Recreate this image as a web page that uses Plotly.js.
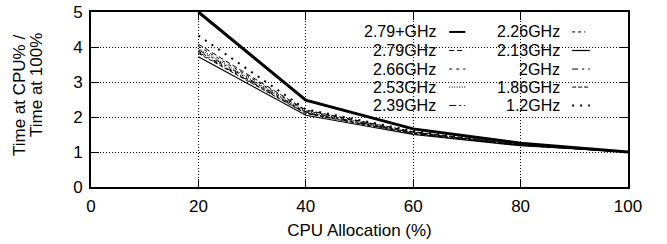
<!DOCTYPE html>
<html><head><meta charset="utf-8">
<script src="https://cdn.plot.ly/plotly-3.0.1.min.js"></script>
<style>html,body{margin:0;padding:0;background:#fff}#chart{width:667px;height:244px}</style>
</head><body><div id="chart"></div>
<script>
const cpu = [20, 40, 60, 80, 100];
const seriesNames = ["2.79+GHz","2.79GHz","2.66GHz","2.53GHz","2.39GHz","2.26GHz","2.13GHz","2GHz","1.86GHz","1.2GHz"];
const s279p = [5.0, 2.48, 1.66, 1.25, 1.0];
const s279  = [4.08, 2.20, 1.58, 1.22, 1.0];
const s266  = [4.02, 2.18, 1.57, 1.21, 1.0];
const s253  = [3.96, 2.16, 1.56, 1.21, 1.0];
const s239  = [3.92, 2.14, 1.55, 1.20, 1.0];
const s226  = [3.88, 2.12, 1.54, 1.20, 1.0];
const s213  = [3.72, 2.05, 1.50, 1.18, 1.0];
const s200  = [3.85, 2.11, 1.53, 1.19, 1.0];
const s186  = [3.82, 2.10, 1.52, 1.19, 1.0];
const s120  = [4.33, 2.22, 1.60, 1.23, 1.0];
const values = [s279p,s279,s266,s253,s239,s226,s213,s200,s186,s120];
const xTicks = [0,20,40,60,80,100];
const yTicks = [0,1,2,3,4,5];
const xTitle = "CPU Allocation (%)";
const yTitleLines = ["Time at CPU% /", "Time at 100%"];

const FONT = "Liberation Sans, Arial, sans-serif";
const styles = [
  {width:3, dash:"solid"},
  {width:1, dash:"5px,3px"},
  {width:1, dash:"3px,4px"},
  {width:1, dash:"1px,1.5px"},
  {width:1, dash:"7px,3px,2px,3px,2px,3px"},
  {width:1, dash:"3px,3px,3px,3px,1px,5px"},
  {width:1.2, dash:"solid"},
  {width:1, dash:"6px,4px,2px,4px"},
  {width:1, dash:"4px,2px"},
  {width:2, dash:"2px,6px"}
];

const traces = seriesNames.map((n,i)=>({
  x: cpu, y: values[i], name: n, type:"scatter", mode:"lines",
  line:{color:"#000", width:styles[i].width, dash:styles[i].dash},
  showlegend:false, hoverinfo:"skip"
}));

// manual legend: text right-aligned, then sample line
const colTextX = [0.646, 0.877];
const colSample = [[0.667,0.697],[0.896,0.929]];
const rowY = [0.886, 0.780, 0.674, 0.571, 0.466];
const annotations = [];
const shapes = [{type:"rect", xref:"paper", yref:"paper", x0:0.49, x1:0.945, y0:0.415, y1:0.99,
  fillcolor:"#fff", line:{width:0}, layer:"below"}];
seriesNames.forEach((n,i)=>{
  const c = Math.floor(i/5), r = i%5;
  annotations.push({xref:"paper", yref:"paper", x:colTextX[c], y:rowY[r], xanchor:"right", yanchor:"middle",
    text:n, showarrow:false, font:{family:FONT, size:16, color:"#000"}});
  shapes.push({type:"line", xref:"paper", yref:"paper", x0:colSample[c][0], x1:colSample[c][1], y0:rowY[r], y1:rowY[r],
    line:{color:"#000", width:Math.min(styles[i].width,2), dash:styles[i].dash}});
});
// y-axis title as two rotated lines
annotations.push({xref:"paper", yref:"paper", x:-0.132, y:0.526, xanchor:"center", yanchor:"middle", textangle:-90,
  text:yTitleLines[0], showarrow:false, font:{family:FONT, size:17, color:"#000"}});
annotations.push({xref:"paper", yref:"paper", x:-0.1006, y:0.583, xanchor:"center", yanchor:"middle", textangle:-90,
  text:yTitleLines[1], showarrow:false, font:{family:FONT, size:17, color:"#000"}});

const layout = {
  width:667, height:244,
  margin:{l:91, r:39, t:12, b:57},
  paper_bgcolor:"#fff", plot_bgcolor:"#fff",
  font:{family:FONT, size:17, color:"#000"},
  xaxis:{range:[0,100], tickvals:xTicks, ticks:"inside", ticklen:8, tickcolor:"#000", mirror:"ticks",
    showline:true, linecolor:"#000", linewidth:2, zeroline:false, ticklabelstandoff:3,
    showgrid:true, gridcolor:"#000", griddash:"1px,2px", gridwidth:1,
    title:{text:xTitle, standoff:9, font:{size:17}}, tickfont:{size:17}},
  yaxis:{range:[0,5], tickvals:yTicks, ticks:"inside", ticklen:8, tickcolor:"#000", mirror:"ticks",
    showline:true, linecolor:"#000", linewidth:2, zeroline:false, ticklabelstandoff:3,
    showgrid:true, gridcolor:"#000", griddash:"1px,2px", gridwidth:1,
    tickfont:{size:17}},
  annotations, shapes, showlegend:false
};
Plotly.newPlot("chart", traces, layout, {displayModeBar:false, staticPlot:true});
</script></body></html>
